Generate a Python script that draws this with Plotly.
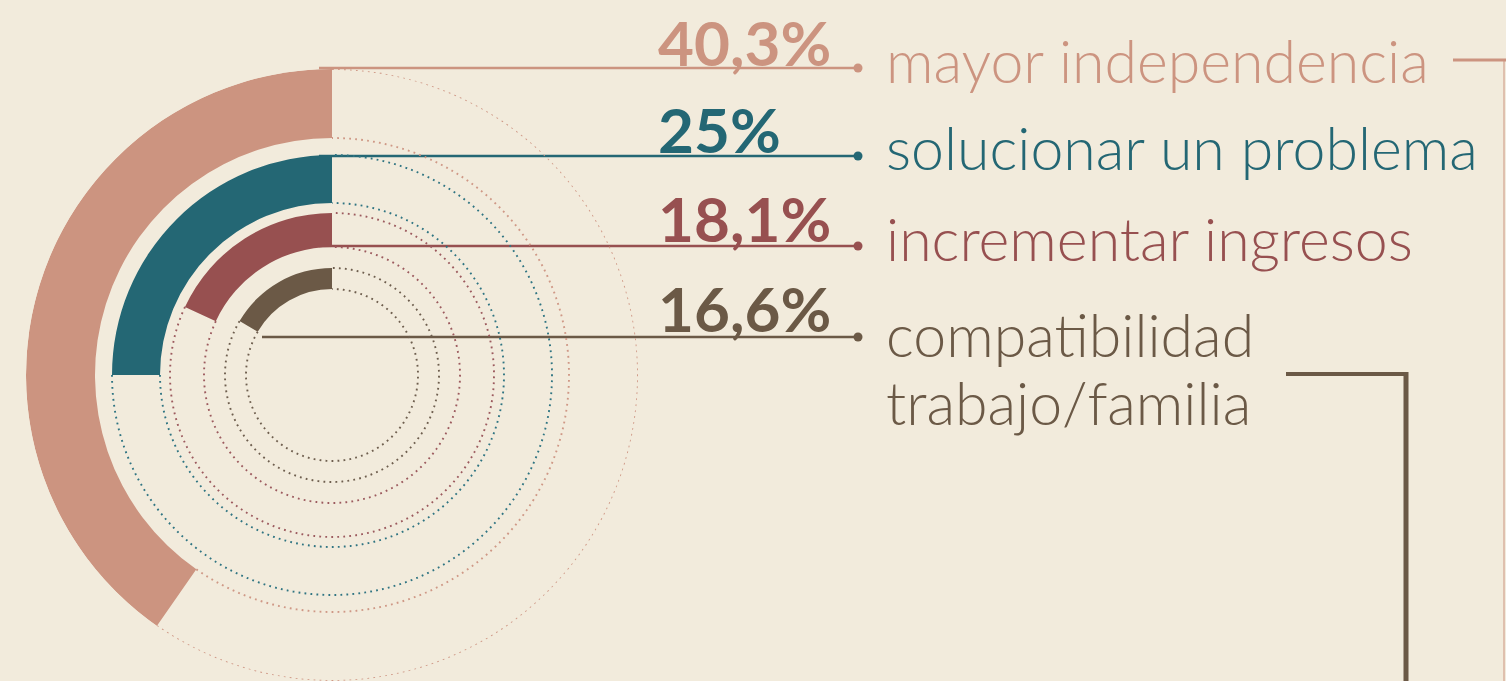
import numpy as np
import plotly.graph_objects as go

# ---------------- data ----------------
categories = ["mayor independencia", "solucionar un problema",
              "incrementar ingresos", "compatibilidad<br>trabajo/familia"]
values = [40.3, 25.0, 18.1, 16.6]          # percent
pct_labels = ["40,3%", "25%", "18,1%", "16,6%"]

# ---------------- styles / positions ----------------
colors = ["#cc9480", "#246774", "#975050", "#6b5946"]
dot_colors = ["#cf9886", "#2f7482", "#9c5a5e", "#6e5e4e"]
r_outer = [306, 220, 162, 107]
r_inner = [237, 172, 128, 86]

W, H = 1506, 681
CX, CY = 332, 375            # centre of the rings (px)
R = 306                      # px radius of polar range
BG = "#f2ebdc"

fig = go.Figure()

# dotted "track" remainder of each ring
for v, ro, ri, dc in zip(values, r_outer, r_inner, dot_colors):
    th = np.linspace(v * 3.6, 360, 400)
    for rr in (ro, ri):
        fig.add_trace(go.Scatterpolar(
            r=np.full_like(th, rr), theta=th, mode="lines",
            line=dict(color=dc, width=1.9, dash="1.8px,4.2px"),
            hoverinfo="skip", showlegend=False))

# ring bars
fig.add_trace(go.Barpolar(
    r=[ro - ri for ro, ri in zip(r_outer, r_inner)],
    base=r_inner,
    theta=[v * 3.6 / 2 for v in values],
    width=[v * 3.6 for v in values],
    marker=dict(color=colors, line=dict(width=0)),
    hoverinfo="skip", showlegend=False))

# ---------------- connector lines + text (pixel cartesian overlay) -----
line_y = [68, 156, 246, 337]
line_x0 = [319, 319, 319, 262]
dot_x = 858
pct_x = 656
label_x = 884
pct_y = [42, 129, 218, 308]
label_y = [60, 147, 238, 334]
line_gap = 68

for i in range(len(values)):
    fig.add_trace(go.Scatter(
        x=[line_x0[i], dot_x], y=[line_y[i], line_y[i]], mode="lines",
        line=dict(color=colors[i], width=2.6), hoverinfo="skip",
        showlegend=False, xaxis="x", yaxis="y"))
    fig.add_trace(go.Scatter(
        x=[dot_x], y=[line_y[i]], mode="markers",
        marker=dict(color=colors[i], size=9), hoverinfo="skip",
        showlegend=False, xaxis="x", yaxis="y"))
    fig.add_annotation(x=pct_x, y=pct_y[i], xref="x", yref="y",
                       text="<b>%s</b>" % pct_labels[i], showarrow=False,
                       xanchor="left", yanchor="middle",
                       font=dict(family="Lato", size=62, color=colors[i]))
    for k, part in enumerate(categories[i].split("<br>")):
        fig.add_annotation(x=label_x, y=label_y[i] + k * line_gap,
                           xref="x", yref="y",
                           text=part, showarrow=False,
                           xanchor="left", yanchor="middle", align="left",
                           font=dict(family="Lato", size=59, weight=300,
                                     color=colors[i]))

# decorative frame lines on the right
fig.add_shape(type="line", x0=1453, x1=W, y0=60, y1=60, xref="x", yref="y",
              line=dict(color=colors[0], width=3))
fig.add_shape(type="line", x0=1504, x1=1504, y0=60, y1=H, xref="x", yref="y",
              line=dict(color=colors[0], width=1))
fig.add_shape(type="line", x0=1286, x1=1406, y0=374, y1=374, xref="x", yref="y",
              line=dict(color=colors[3], width=4))
fig.add_shape(type="line", x0=1406, x1=1406, y0=372, y1=H, xref="x", yref="y",
              line=dict(color=colors[3], width=5))

fig.update_layout(
    width=W, height=H, margin=dict(l=0, r=0, t=0, b=0),
    paper_bgcolor=BG, plot_bgcolor="rgba(0,0,0,0)",
    showlegend=False,
    xaxis=dict(range=[0, W], visible=False, domain=[0, 1], fixedrange=True),
    yaxis=dict(range=[H, 0], visible=False, domain=[0, 1], fixedrange=True),
    polar=dict(
        domain=dict(x=[(CX - R) / W, (CX + R) / W],
                    y=[(H - CY - R) / H, (H - CY + R) / H]),
        bgcolor="rgba(0,0,0,0)",
        hole=0,
        radialaxis=dict(range=[0, R], visible=False, showgrid=False),
        angularaxis=dict(rotation=90, direction="counterclockwise",
                         visible=False, showgrid=False),
    ),
    bargap=0,
)

fig.write_html(
    "out.html",
    config={"displayModeBar": False, "staticPlot": True},
    post_script="document.body.style.margin='0';"
                "document.body.style.background='%s';" % BG,
)
